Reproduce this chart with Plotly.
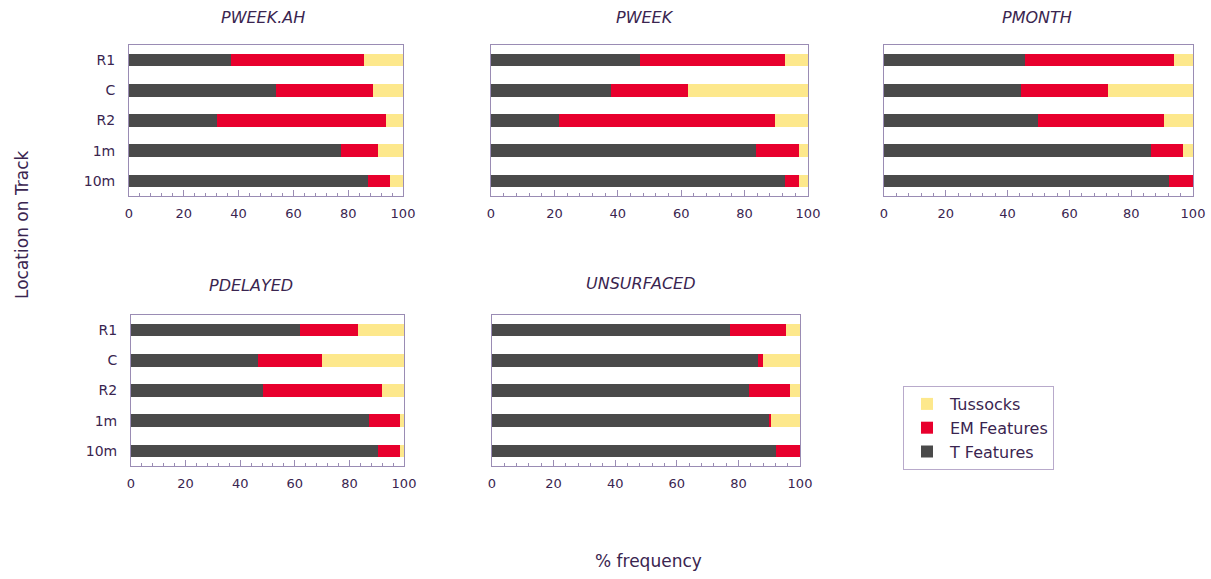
import plotly.graph_objects as go

W, H = 1211, 579

categories = ["R1", "C", "R2", "1m", "10m"]
series_names = ["T Features", "EM Features", "Tussocks"]
panel_titles = ["PWEEK.AH", "PWEEK", "PMONTH", "PDELAYED", "UNSURFACED"]

# values per panel, in category order R1, C, R2, 1m, 10m (% frequency)
pweek_ah_t = [37.4, 53.7, 32.0, 77.3, 87.4]
pweek_ah_em = [48.2, 35.3, 61.7, 13.4, 8.0]
pweek_ah_tus = [14.4, 11.0, 6.3, 9.3, 4.6]

pweek_t = [47.0, 38.0, 21.4, 83.5, 92.6]
pweek_em = [45.6, 24.0, 68.2, 13.6, 4.5]
pweek_tus = [7.4, 38.0, 10.4, 2.9, 2.9]

pmonth_t = [45.6, 44.2, 49.8, 86.5, 92.1]
pmonth_em = [48.1, 28.2, 40.7, 10.3, 7.9]
pmonth_tus = [6.3, 27.6, 9.5, 3.2, 0.0]

pdelayed_t = [61.9, 46.6, 48.5, 87.0, 90.3]
pdelayed_em = [21.4, 23.4, 43.5, 11.4, 8.1]
pdelayed_tus = [16.7, 30.0, 8.0, 1.6, 1.6]

unsurfaced_t = [77.2, 86.3, 83.4, 89.9, 92.1]
unsurfaced_em = [18.1, 1.8, 13.3, 0.8, 7.9]
unsurfaced_tus = [4.7, 11.9, 3.3, 9.3, 0.0]

x_tick_values = [0, 20, 40, 60, 80, 100]

panels = [
    (pweek_ah_t, pweek_ah_em, pweek_ah_tus),
    (pweek_t, pweek_em, pweek_tus),
    (pmonth_t, pmonth_em, pmonth_tus),
    (pdelayed_t, pdelayed_em, pdelayed_tus),
    (unsurfaced_t, unsurfaced_em, unsurfaced_tus),
]

colors = {"T Features": "#4a4a4a", "EM Features": "#e8002d", "Tussocks": "#fde88c"}
TEXT = "#3a2550"
LINE = "#9a8cb4"
FONT = "DejaVu Sans"

# plot-area boxes in pixels: (left, right, top, bottom)
boxes = [
    (129, 403, 45, 196),
    (491, 808, 45, 196),
    (884, 1193, 45, 196),
    (131, 404, 315, 466),
    (492, 800, 315, 466),
]

fig = go.Figure()
for i, (vals, box) in enumerate(zip(panels, boxes)):
    n = i + 1
    xa = "x" if n == 1 else f"x{n}"
    ya = "y" if n == 1 else f"y{n}"
    for name, v in zip(series_names, vals):
        fig.add_trace(go.Bar(
            y=categories, x=v, orientation="h", name=name,
            marker=dict(color=colors[name], line=dict(width=0)),
            legendgroup=name, showlegend=(n == 1),
            xaxis=xa, yaxis=ya,
        ))
    l, r, t, b = box
    xdom = [l / W, r / W]
    ydom = [1 - b / H, 1 - t / H]
    xkey = "xaxis" if n == 1 else f"xaxis{n}"
    ykey = "yaxis" if n == 1 else f"yaxis{n}"
    fig.layout[xkey] = dict(
        domain=xdom, anchor=ya, range=[0, 100], tickvals=x_tick_values,
        ticks="inside", ticklen=6, tickcolor=LINE, tickwidth=1,
        minor=dict(dtick=4, ticks="inside", ticklen=3, tickcolor=LINE),
        showline=True, linecolor=LINE, linewidth=1, mirror=True,
        showgrid=False, zeroline=False, automargin=False,
        ticklabelstandoff=5,
        tickfont=dict(family=FONT, size=13, color=TEXT),
    )
    fig.layout[ykey] = dict(
        domain=ydom, anchor=xa, type="category",
        categoryorder="array", categoryarray=categories[::-1],
        range=[-0.5, 4.5],
        showline=True, linecolor=LINE, linewidth=1, mirror=True,
        showgrid=False, zeroline=False, ticks="", automargin=False,
        showticklabels=(n in (1, 4)), ticklabelstandoff=10,
        tickfont=dict(family=FONT, size=14, color=TEXT),
    )

title_pos = [(263, 17), (645, 17), (1037, 17), (251, 285), (640, 283)]
annotations = []
for txt, (px, py) in zip(panel_titles, title_pos):
    annotations.append(dict(
        text=f"<i>{txt}</i>", x=px / W, y=1 - py / H, xref="paper", yref="paper",
        xanchor="center", yanchor="middle", showarrow=False,
        font=dict(family=FONT, size=16, color=TEXT),
    ))
annotations.append(dict(
    text="Location on Track", x=22 / W, y=1 - 225 / H, xref="paper", yref="paper",
    textangle=-90, xanchor="center", yanchor="middle", showarrow=False,
    font=dict(family=FONT, size=17, color=TEXT),
))
annotations.append(dict(
    text="% frequency", x=648 / W, y=1 - 561 / H, xref="paper", yref="paper",
    xanchor="center", yanchor="middle", showarrow=False,
    font=dict(family=FONT, size=17, color=TEXT),
))

fig.update_layout(
    width=W, height=H, barmode="stack", bargap=0.58,
    margin=dict(l=0, r=0, t=0, b=0, autoexpand=False),
    paper_bgcolor="white", plot_bgcolor="white",
    annotations=annotations,
    legend=dict(
        x=903 / W, y=1 - 386 / H, xanchor="left", yanchor="top",
        traceorder="reversed", bordercolor="#b8aacb", borderwidth=1,
        bgcolor="white", font=dict(family=FONT, size=16, color=TEXT),
        itemwidth=36, tracegroupgap=0, entrywidth=185, entrywidthmode="pixels",
    ),
)

fig.write_html(
    "out.html",
    config={"responsive": False, "displayModeBar": False},
    post_script="document.body.style.margin='0';document.body.style.overflow='hidden';",
)
